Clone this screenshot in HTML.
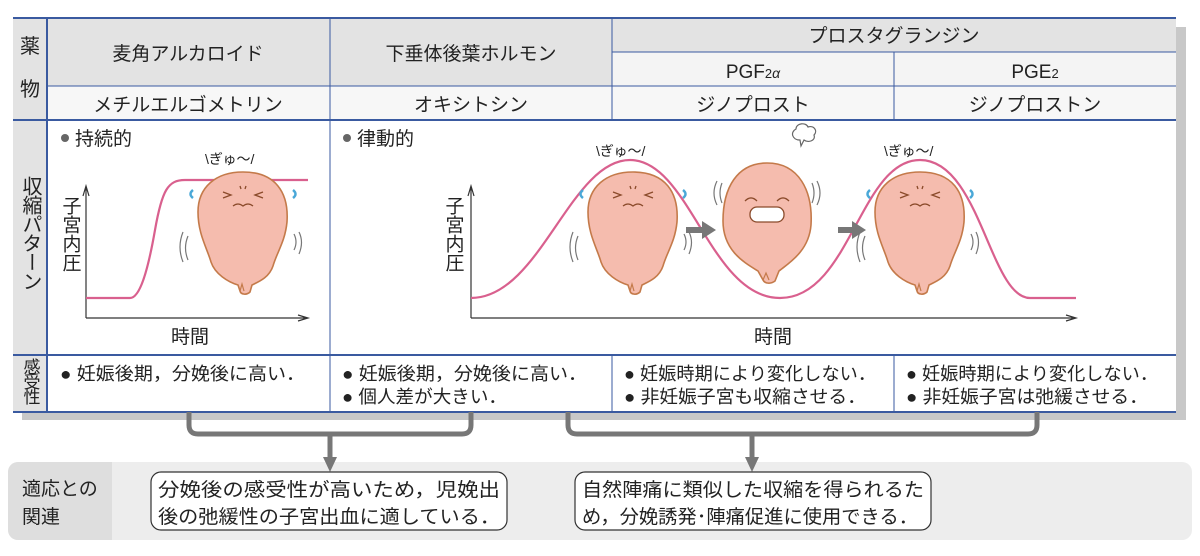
<!DOCTYPE html>
<html><head><meta charset="utf-8"><style>
body{margin:0;background:#fff;}
svg text{font-family:"Liberation Sans","Noto Sans CJK JP",sans-serif;fill:#222;}
</style></head><body>
<svg width="1200" height="551" viewBox="0 0 1200 551" xmlns="http://www.w3.org/2000/svg">
<defs>
<g id="uc">
<path d="M0,0 C32,0 46,20 44,50 C42,70 34,80 30,94 C26,106 15,110 9,113 L7,120 C4,123 -2,123 -3,119 L-5,113 C-15,110 -28,102 -32,90 C-36,76 -45,62 -45,40 C-45,15 -27,0 0,0Z" fill="#f5bcae" stroke="#c47a4a" stroke-width="1.6"/>
<path d="M-3,119 L-1,112 L1,119" fill="none" stroke="#c47a4a" stroke-width="1.2"/>
<path d="M-20,20 l8,3 -8,3 M20,20 l-8,3 8,3 M-10,34 q5,-4 10,0 q5,-4 10,0 M-3,14 l1,3 M3,14 l-1,3" fill="none" stroke="#8a4a2a" stroke-width="1.3"/>
<path d="M-60,60 q-6,15 0,30 M-55,64 q-5,12 0,24 M56,60 q5,10 0,22 M51,62 q4,8 0,16" fill="none" stroke="#777" stroke-width="1.2"/>
<path d="M-50,18 q-5,4 0,8 M50,18 q5,4 0,8" fill="none" stroke="#4aa8d8" stroke-width="2.5"/>
</g>
<g id="ur">
<path d="M0,0 C32,0 46,28 44,62 C42,88 22,100 12,108 L8,118 C4,121 -2,121 -4,117 L-9,108 C-22,100 -44,88 -44,58 C-44,25 -30,0 0,0Z" fill="#f5bcae" stroke="#c47a4a" stroke-width="1.6"/>
<path d="M-4,117 L-1,110 L2,117" fill="none" stroke="#c47a4a" stroke-width="1.2"/>
<path d="M-22,38 q6,-6 12,0 M10,38 q6,-6 12,0" fill="none" stroke="#8a4a2a" stroke-width="1.3"/>
<rect x="-17" y="44" width="34" height="15" rx="7" fill="#fff" stroke="#8a4a2a" stroke-width="1.3"/>
<path d="M-50,18 q-6,12 0,24 M-45,20 q-4,10 0,20 M50,18 q6,12 0,24 M45,20 q4,10 0,20" fill="none" stroke="#777" stroke-width="1.2"/>
</g>
</defs>
<rect x="22" y="27" width="1164" height="393" fill="#c8c8c8"/>
<rect x="13" y="18" width="1163" height="394" fill="#fff"/>
<rect x="13" y="18" width="1163" height="68" fill="#e3e3e3"/>
<rect x="612" y="52" width="564" height="34" fill="#f4f4f4"/>
<rect x="13" y="86" width="1163" height="34" fill="#f7f7f7"/>
<rect x="13" y="18" width="34" height="394" fill="#e3e3e3"/>
<g stroke="#3a5aa0" fill="none">
<line x1="13" y1="18" x2="1176" y2="18" stroke-width="2"/>
<line x1="47" y1="86" x2="1176" y2="86" stroke-width="1"/>
<line x1="612" y1="52" x2="1176" y2="52" stroke-width="1"/>
<line x1="13" y1="120" x2="1176" y2="120" stroke-width="2"/>
<line x1="13" y1="355" x2="1176" y2="355" stroke-width="2"/>
<line x1="13" y1="412" x2="1176" y2="412" stroke-width="2"/>
<line x1="47" y1="18" x2="47" y2="412" stroke-width="2"/>
<line x1="330" y1="18" x2="330" y2="412"/>
<line x1="612" y1="18" x2="612" y2="120"/>
<line x1="894" y1="52" x2="894" y2="120"/>
<line x1="612" y1="355" x2="612" y2="412"/>
<line x1="894" y1="355" x2="894" y2="412"/>
</g>
<g font-size="19">
<text x="30" y="53" text-anchor="middle" font-size="20">薬</text>
<text x="30" y="96" text-anchor="middle" font-size="20">物</text>
<text x="188" y="60" text-anchor="middle">麦角アルカロイド</text>
<text x="471" y="60" text-anchor="middle">下垂体後葉ホルモン</text>
<text x="894" y="42" text-anchor="middle">プロスタグランジン</text>
<text x="753" y="78" text-anchor="middle">PGF<tspan font-size="13">2</tspan><tspan font-size="14" font-style="italic">α</tspan></text>
<text x="1035" y="78" text-anchor="middle">PGE<tspan font-size="13">2</tspan></text>
<text x="188" y="111" text-anchor="middle">メチルエルゴメトリン</text>
<text x="471" y="111" text-anchor="middle">オキシトシン</text>
<text x="753" y="111" text-anchor="middle">ジノプロスト</text>
<text x="1035" y="111" text-anchor="middle">ジノプロストン</text>
</g>
<text font-size="20" writing-mode="tb" x="30" y="176" letter-spacing="-1">収縮パターン</text>
<text font-size="17" writing-mode="tb" x="30" y="358" letter-spacing="-2">感受性</text>
<g font-size="19">
<circle cx="65" cy="138" r="4" fill="#666"/><text x="75" y="145">持続的</text>
<circle cx="347" cy="138" r="4" fill="#666"/><text x="357" y="145">律動的</text>
<text writing-mode="tb" x="70" y="196">子宮内圧</text>
<text writing-mode="tb" x="453" y="196">子宮内圧</text>
<text x="190" y="343" text-anchor="middle">時間</text>
<text x="773" y="343" text-anchor="middle">時間</text>
</g>
<g stroke="#333" stroke-width="1.2" fill="none">
<path d="M86,318 V188 M83,196 L86,186 89,196"/>
<path d="M86,318 H306 M298,315 L308,318 298,321"/>
<path d="M471,318 V188 M468,196 L471,186 474,196"/>
<path d="M471,318 H1074 M1066,315 L1076,318 1066,321"/>
</g>
<path d="M86,298 H130 C140,298 148,270 155,230 C162,190 168,180 185,180 H308" fill="none" stroke="#d9608e" stroke-width="2.2"/>
<path d="M471,298 C540,298 570,160 630,160 C690,160 710,298 780,298 C850,298 860,160 920,160 C980,160 990,298 1030,298 H1076" fill="none" stroke="#d9608e" stroke-width="2.2"/>
<use href="#uc" x="243" y="172"/>
<use href="#uc" x="633" y="172"/>
<use href="#ur" x="767" y="163"/>
<use href="#uc" x="920" y="172"/>
<g font-size="14">
<text x="205" y="164" fill="#555">\ぎゅ〜/</text>
<text x="596" y="156" fill="#555">\ぎゅ〜/</text>
<text x="884" y="156" fill="#555">\ぎゅ〜/</text>
</g>
<path d="M800,140 c-8,0 -10,-8 -4,-11 c0,-6 10,-7 12,-2 c6,-2 10,4 6,8 c2,6 -6,8 -10,5 l-3,6 z" fill="#fff" stroke="#666" stroke-width="1.2"/>
<g fill="#777">
<path d="M686,227 H702 V221 L716,230 702,239 V233 H686Z"/>
<path d="M838,227 H852 V221 L866,230 852,239 V233 H838Z"/>
</g>
<g font-size="18" lengthAdjust="spacingAndGlyphs">
<text x="60" y="380" textLength="245" lengthAdjust="spacingAndGlyphs">● 妊娠後期，分娩後に高い．</text>
<text x="342" y="380" textLength="245" lengthAdjust="spacingAndGlyphs">● 妊娠後期，分娩後に高い．</text>
<text x="342" y="403" textLength="165" lengthAdjust="spacingAndGlyphs">● 個人差が大きい．</text>
<text x="624" y="380" textLength="252" lengthAdjust="spacingAndGlyphs">● 妊娠時期により変化しない．</text>
<text x="624" y="403" textLength="242" lengthAdjust="spacingAndGlyphs">● 非妊娠子宮も収縮させる．</text>
<text x="906" y="380" textLength="252" lengthAdjust="spacingAndGlyphs">● 妊娠時期により変化しない．</text>
<text x="906" y="403" textLength="242" lengthAdjust="spacingAndGlyphs">● 非妊娠子宮は弛緩させる．</text>
</g>
<rect x="8" y="462" width="1184" height="78" rx="10" fill="#ededed"/>
<path d="M18,462 H112 V540 H18 A10,10 0 0 1 8,530 V472 A10,10 0 0 1 18,462Z" fill="#dedede"/>
<g stroke="#777" stroke-width="5" fill="none">
<path d="M189,412 V425 Q189,434 198,434 H462 Q471,434 471,425 V412"/>
<path d="M568,412 V425 Q568,434 577,434 H1028 Q1037,434 1037,425 V412"/>
<path d="M330,434 V458"/>
<path d="M752,434 V458"/>
</g>
<path d="M323,457 L330,472 337,457Z M745,457 L752,472 759,457Z" fill="#777"/>
<g font-size="19">
<text x="22" y="495">適応との</text>
<text x="22" y="523">関連</text>
</g>
<rect x="151" y="472" width="356" height="58" rx="10" fill="#fff" stroke="#333" stroke-width="1.2"/>
<rect x="575" y="472" width="356" height="58" rx="10" fill="#fff" stroke="#333" stroke-width="1.2"/>
<g font-size="19">
<text x="158" y="496" textLength="342" lengthAdjust="spacingAndGlyphs">分娩後の感受性が高いため，児娩出</text>
<text x="158" y="523" textLength="342" lengthAdjust="spacingAndGlyphs">後の弛緩性の子宮出血に適している．</text>
<text x="582" y="496" textLength="342" lengthAdjust="spacingAndGlyphs">自然陣痛に類似した収縮を得られるた</text>
<text x="582" y="523" textLength="336" lengthAdjust="spacingAndGlyphs">め，分娩誘発･陣痛促進に使用できる．</text>
</g>
</svg>
</body></html>
